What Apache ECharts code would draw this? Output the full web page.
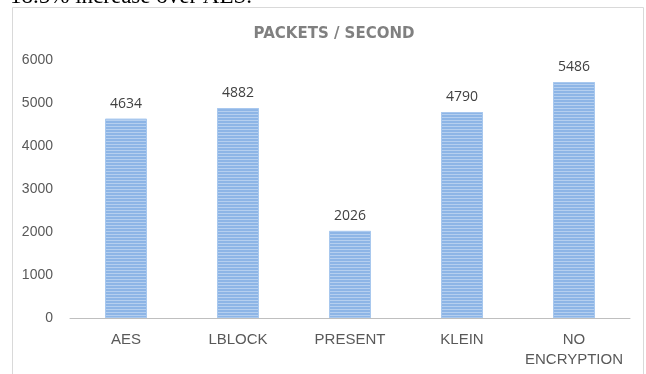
<!DOCTYPE html>
<html>
<head>
<meta charset="utf-8">
<script src="https://cdn.jsdelivr.net/npm/echarts@6/dist/echarts.min.js"></script>
<style>
html,body{margin:0;padding:0;background:#fff;}
#chart{width:646px;height:374px;}
</style>
</head>
<body>
<div id="chart"></div>
<script>
const categories = ['AES', 'LBLOCK', 'PRESENT', 'KLEIN', 'NO\nENCRYPTION'];
const packetsPerSecond = [4634, 4882, 2026, 4790, 5486];
const yTicks = [0, 1000, 2000, 3000, 4000, 5000, 6000];
const titleText = 'PACKETS / SECOND';
const captionText = '18.5% increase over AES.';

const chart = echarts.init(document.getElementById('chart'), null, {renderer: 'canvas'});
chart.setOption({
  backgroundColor: '#fff',
  animation: false,
  title: {
    text: titleText,
    left: 329,
    textAlign: 'center',
    top: 22,
    textStyle: {color: '#808080', fontSize: 15, fontWeight: 'bold', fontFamily: 'DejaVu Sans'}
  },
  graphic: [
    {type: 'rect', shape: {x: 12.5, y: 7.5, width: 631, height: 380}, style: {fill: 'none', stroke: '#d9d9d9', lineWidth: 1}, silent: true},
    {type: 'text', x: 10, y: 8, style: {text: captionText, fill: '#000', fontSize: 23, fontFamily: 'Liberation Serif', verticalAlign: 'bottom'}, silent: true}
  ],
  grid: {left: 70, right: 16, top: 60, bottom: 56, containLabel: false},
  xAxis: {
    type: 'category',
    data: categories,
    axisLine: {lineStyle: {color: '#bfbfbf', width: 1}},
    axisTick: {show: false},
    axisLabel: {interval: 0, color: '#595959', fontSize: 15, fontFamily: 'Liberation Sans', margin: 12, lineHeight: 20}
  },
  yAxis: {
    type: 'value',
    min: yTicks[0],
    max: yTicks[yTicks.length - 1],
    interval: 1000,
    axisLine: {show: false},
    axisTick: {show: false},
    splitLine: {show: false},
    axisLabel: {color: '#595959', fontSize: 14, fontFamily: 'Liberation Sans', margin: 17, formatter: v => String(v)}
  },
  series: [{
    type: 'bar',
    data: packetsPerSecond,
    barWidth: '37.5%',
    itemStyle: {
      color: '#8db5e6',
      borderColor: '#a8c8ee',
      borderWidth: 1,
      decal: {symbol: 'rect', symbolSize: 1, dashArrayX: [1, 0], dashArrayY: [1, 2], rotation: 0, color: 'rgba(255,255,255,0.35)'}
    },
    label: {show: true, position: 'top', distance: 8, color: '#404040', fontSize: 14, fontFamily: 'Open Sans'}
  }]
});
</script>
</body>
</html>
